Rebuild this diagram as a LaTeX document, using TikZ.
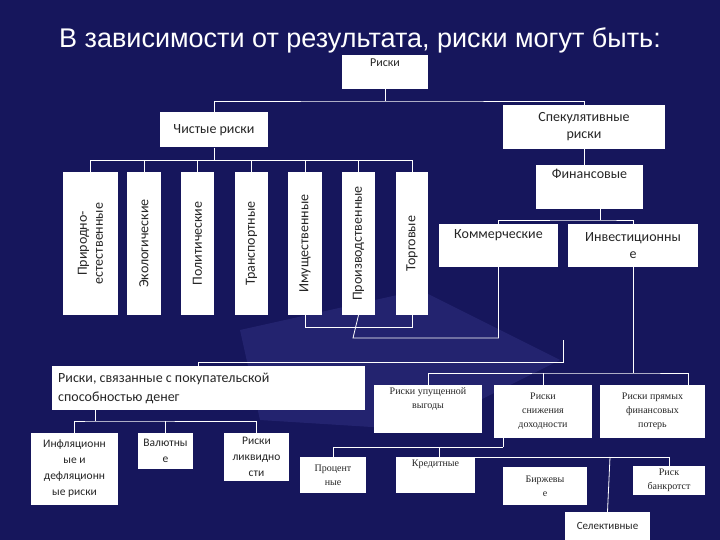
\documentclass[tikz,border=0pt]{standalone}
\usepackage{fontspec}
\setmainfont{Carlito}
\newfontfamily\serf{Liberation Serif}
\newfontfamily\ttlf{Liberation Sans}
\definecolor{bgc}{RGB}{22,22,92}
\definecolor{bgl}{RGB}{45,45,125}
\begin{document}
\begin{tikzpicture}[x=1pt,y=-1pt,
 box/.style={draw=none,fill=white,inner sep=2pt,align=center,font=\fontsize{14}{17}\selectfont,text=black!85},
 sbox/.style={box,font=\serf\fontsize{10}{14}\selectfont},
 ln/.style={draw=white,line width=0.8pt}]
\fill[bgc] (0,0) rectangle (720,540);
\fill[bgl,opacity=0.6] (240,330) -- (420,290) -- (560,360) -- (420,430) -- (260,420) -- cycle;
\useasboundingbox (0,0) rectangle (720,540);
\node[text=white,font=\ttlf\fontsize{27}{30}\selectfont] (t) at (360,40) {В зависимости от результата, риски могут быть:};
\node[box,minimum width=86,minimum height=34,anchor=north,font=\fontsize{12}{14}\selectfont] (r) at (385,55) {Риски\\[6pt]\mbox{}};
\node[box,minimum width=108,minimum height=35] (ch) at (214,130) {Чистые риски};
\node[box,minimum width=162,minimum height=44] (sp) at (584,127) {Спекулятивные\\риски};
\foreach \n/\cx/\w/\txt in {v1/90.5/55/{Природно-\\естественные},v2/144/34/Экологические,v3/197.5/33/Политические,v4/251.5/33/Транспортные,v5/305/34/Имущественные,v6/358.5/33/Производственные,v7/412/32/Торговые}{
 \node[box,rotate=90,minimum width=143,minimum height=\w,inner sep=0pt,font=\fontsize{14}{16}\selectfont] (\n) at (\cx,243.5) {\txt};}
\node[box,minimum width=107,minimum height=44] (fin) at (589.5,187) {Финансовые\\[10pt]\mbox{}};
\node[box,minimum width=119,minimum height=43] (kom) at (498.5,245.5) {Коммерческие\\[6pt]\mbox{}};
\node[box,minimum width=130,minimum height=43] (inv) at (633,245.5) {Инвестиционны\\е};
\node[box,minimum height=44,text width=301,align=flush left,anchor=west,font=\fontsize{14}{19}\selectfont,inner xsep=6pt] (pok) at (52,388) {Риски, связанные с покупательской\\способностью денег};
\node[sbox,minimum width=108,minimum height=48] (up) at (428,409) {Риски упущенной\\выгоды\\[8pt]\mbox{}};
\node[sbox,minimum width=98,minimum height=53] (sn) at (543,411.5) {Риски\\снижения\\доходности};
\node[sbox,minimum width=105,minimum height=53] (pr) at (652.5,411.5) {Риски прямых\\финансовых\\потерь};
\node[box,minimum width=87,minimum height=72,font=\fontsize{11.5}{16}\selectfont] (inf) at (74.5,469) {Инфляционн\\ые и\\дефляционн\\ые риски};
\node[box,minimum width=55,minimum height=36,font=\fontsize{11.5}{16}\selectfont] (val) at (165.5,451) {Валютны\\е};
\node[box,minimum width=65,minimum height=48,font=\fontsize{11.5}{16}\selectfont] (liq) at (256.5,457) {Риски\\ликвидно\\сти};
\node[sbox,minimum width=66,minimum height=36] (proc) at (333,475) {Процент\\ные};
\node[sbox,minimum width=79,minimum height=36] (kred) at (435.5,475) {Кредитные\\[9pt]\mbox{}};
\node[sbox,minimum width=84,minimum height=38] (birzh) at (545,486) {Биржевы\\е};
\node[sbox,minimum width=72,minimum height=29] (bank) at (669,480.5) {Риск\\банкротст};
\node[box,minimum width=85,minimum height=28,font=\fontsize{11}{13}\selectfont] (sel) at (607.5,526) {Селективные};
% connectors
\draw[ln] (r.south) -- (385,101) coordinate (j1);
\draw[ln] (ch.north) |- (j1) -| (sp.north);
\draw[ln] (ch.south) -- (214,160) coordinate (j2);
\foreach \n in {v1,v2,v3,v4,v5,v6,v7}{\draw[ln] (\n.east) |- (j2);}
\draw[ln] (v5.west) -- (305,327) -| (v7.west);
\draw[ln] (v6.west) -- (353,338) -| (kom.south);
\draw[ln] (sp.south) -- (sp.south |- fin.north);
\draw[ln] (600,209) -- (600,220) coordinate (j3);
\draw[ln] (kom.north) |- (j3) -| (inv.north);
\coordinate (c1) at (563,340);
\draw[ln] (c1) -- (563,362) -| (198,366);
\draw[ln] (inv.south) -- (633,373) coordinate (j4);
\draw[ln] (up.north) |- (j4) -| (688,385);
\draw[ln] (sn.north) -- (543,373);
\draw[ln] (95,410) -- (95,421) coordinate (j5);
\draw[ln] (inf.north) |- (j5) -| (liq.north);
\draw[ln] (val.north) -- (165.5,421);
\draw[ln] (503,438) -- (503,447) coordinate (j6);
\draw[ln] (proc.north) |- (j6);
\draw[ln] (439,447) -- (439,457) coordinate (j7);
\draw[ln] (j7) -| (bank.north);
\draw[ln] (610,457) -- (sel.north);
\end{tikzpicture}
\end{document}
